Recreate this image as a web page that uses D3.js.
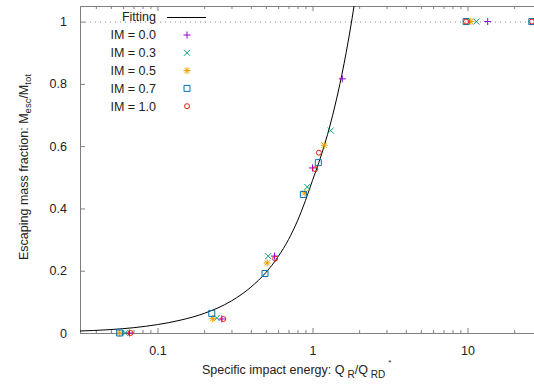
<!DOCTYPE html>
<html>
<head>
<meta charset="utf-8">
<script src="https://cdn.jsdelivr.net/npm/d3@7"></script>
<style>
  body { margin: 0; background: #fff; }
  svg { display: block; font-family: "Liberation Sans", Arial, sans-serif; }
  .axis text { font-size: 12.5px; fill: #222; }
  .axis path, .axis line { stroke: #808080; }
</style>
</head>
<body>
<div id="chart"></div>
<script>
// fitting curve
var fitQ = [0.03, 0.05, 0.07, 0.1, 0.14, 0.2, 0.3, 0.4, 0.5, 0.6, 0.7, 0.8, 0.9, 1.0, 1.1, 1.2, 1.3, 1.4, 1.5, 1.6, 1.7, 1.8, 1.9];
var fitM = [0.006, 0.011, 0.017, 0.027, 0.041, 0.063, 0.103, 0.147, 0.194, 0.245, 0.30, 0.36, 0.425, 0.49, 0.548, 0.607, 0.668, 0.732, 0.798, 0.866, 0.937, 1.01, 1.085];

// simulation results [Q_R/Q_RD*, M_esc/M_tot]
var im00 = [[0.066, 0], [0.26, 0.045], [0.569, 0.247], [1.0, 0.53], [1.557, 0.816], [13.5, 1]];
var im03 = [[0.062, 0], [0.241, 0.048], [0.518, 0.247], [0.925, 0.469], [1.31, 0.65], [11.4, 1]];
var im05 = [[0.057, 0], [0.227, 0.046], [0.51, 0.225], [0.894, 0.45], [1.19, 0.603], [10.5, 1]];
var im07 = [[0.057, 0], [0.224, 0.063], [0.494, 0.191], [0.873, 0.445], [1.09, 0.547], [9.8, 1], [26, 1]];
var im10 = [[0.067, 0], [0.266, 0.045], [0.574, 0.239], [1.04, 0.526], [1.10, 0.579], [9.8, 1], [26, 1]];

var seriesNames = ["IM = 0.0", "IM = 0.3", "IM = 0.5", "IM = 0.7", "IM = 1.0"];
var seriesData = [im00, im03, im05, im07, im10];
var seriesColors = ["#9400d3", "#009e73", "#e69f00", "#0072b2", "#e51e10"];
var seriesShapes = ["plus", "cross", "star", "square", "circle"];

var xMajor = [0.1, 1, 10];
var xMinor = [0.04, 0.05, 0.06, 0.07, 0.08, 0.09, 0.2, 0.3, 0.4, 0.5, 0.6, 0.7, 0.8, 0.9, 2, 3, 4, 5, 6, 7, 8, 9, 20, 30];
var yTicks = [0, 0.2, 0.4, 0.6, 0.8, 1];

var W = 534, H = 389;
var x = d3.scaleLog().domain([Math.pow(10, -1.5), Math.pow(10, 1.5)]).range([80, 545]);
var y = d3.scaleLinear().domain([0, 1.05]).range([333, 6]);

var svg = d3.select("#chart").append("svg").attr("width", W).attr("height", H);

svg.append("clipPath").attr("id", "plotclip")
  .append("rect").attr("x", 80).attr("y", 6).attr("width", 470).attr("height", 327);

// dotted line at total escape
svg.append("line")
  .attr("x1", x.range()[0]).attr("x2", x.range()[1])
  .attr("y1", y(1) + 0.5).attr("y2", y(1) + 0.5)
  .attr("stroke", "#888").attr("stroke-dasharray", "1,4");

// axes
svg.append("g").attr("class", "axis")
  .attr("transform", "translate(0," + y(0) + ")")
  .call(d3.axisBottom(x).tickValues(xMajor).tickFormat(function(d) { return d; })
    .tickSizeInner(-5).tickSizeOuter(0).tickPadding(13));
svg.append("g").attr("class", "axis")
  .attr("transform", "translate(0," + y(0) + ")")
  .call(d3.axisBottom(x).tickValues(xMinor).tickFormat("").tickSizeInner(-3).tickSizeOuter(0));
svg.append("g").attr("class", "axis")
  .attr("transform", "translate(0," + y.range()[1] + ")")
  .call(d3.axisTop(x).tickValues(xMajor).tickFormat("").tickSizeInner(-5).tickSizeOuter(0));
svg.append("g").attr("class", "axis")
  .attr("transform", "translate(0," + y.range()[1] + ")")
  .call(d3.axisTop(x).tickValues(xMinor).tickFormat("").tickSizeInner(-3).tickSizeOuter(0));
svg.append("g").attr("class", "axis")
  .attr("transform", "translate(" + x.range()[0] + ",0)")
  .call(d3.axisLeft(y).tickValues(yTicks).tickFormat(function(d) { return d; })
    .tickSizeInner(-5).tickSizeOuter(0).tickPadding(13));

// fitting curve
var line = d3.line()
  .x(function(d, i) { return x(fitQ[i]); })
  .y(function(d) { return y(d); })
  .curve(d3.curveMonotoneX);
svg.append("path")
  .datum(fitM)
  .attr("clip-path", "url(#plotclip)")
  .attr("fill", "none").attr("stroke", "#000").attr("stroke-width", 1)
  .attr("d", line);

// marker shapes
function marker(shape) {
  if (shape == "plus") return "M-3.5,0H3.5M0,-3.5V3.5";
  if (shape == "cross") return "M-3,-3L3,3M-3,3L3,-3";
  if (shape == "star") return "M-3.5,0H3.5M0,-3.5V3.5M-2.6,-2.6L2.6,2.6M-2.6,2.6L2.6,-2.6";
  if (shape == "square") return "M-3,-3H3V3H-3Z";
  return "M-2.5,0A2.5,2.5 0 1,0 2.5,0A2.5,2.5 0 1,0 -2.5,0Z";
}

for (var i = 0; i < seriesData.length; i++) {
  svg.append("g").selectAll("path")
    .data(seriesData[i])
    .enter().append("path")
    .attr("transform", function(d) { return "translate(" + x(d[0]) + "," + y(d[1]) + ")"; })
    .attr("d", marker(seriesShapes[i]))
    .attr("fill", "none")
    .attr("stroke", seriesColors[i])
    .attr("stroke-width", 1);
}

// legend
var leg = svg.append("g").style("font-size", "12.5px").style("fill", "#222");
leg.append("text").attr("x", 156).attr("y", 17).attr("dy", "0.35em")
  .attr("text-anchor", "end").text("Fitting");
leg.append("line").attr("x1", 167).attr("x2", 206).attr("y1", 17.5).attr("y2", 17.5)
  .attr("stroke", "#000");
for (var j = 0; j < seriesNames.length; j++) {
  var ly = 35 + j * 17.8;
  leg.append("text").attr("x", 156).attr("y", ly).attr("dy", "0.35em")
    .attr("text-anchor", "end").text(seriesNames[j]);
  leg.append("path").attr("transform", "translate(187," + ly + ")")
    .attr("d", marker(seriesShapes[j]))
    .attr("fill", "none").attr("stroke", seriesColors[j]);
}

// axis titles
var xt = svg.append("text").attr("x", 202).attr("y", 374)
  .style("font-size", "12.5px").style("fill", "#222");
xt.append("tspan").text("Specific impact energy: Q");
xt.append("tspan").attr("dx", 3).attr("dy", 4).style("font-size", "10px").text("R");
xt.append("tspan").attr("dy", -4).text("/Q");
xt.append("tspan").attr("dx", 3).attr("dy", 4).style("font-size", "10px").text("RD");
xt.append("tspan").attr("dx", 3).attr("dy", -13).style("font-size", "8px").text("*");

var yt = svg.append("text").attr("transform", "translate(28,260) rotate(-90)")
  .style("font-size", "12.5px").style("fill", "#222");
yt.append("tspan").text("Escaping mass fraction: M");
yt.append("tspan").attr("dy", 3).style("font-size", "9.5px").text("esc");
yt.append("tspan").attr("dy", -3).text("/M");
yt.append("tspan").attr("dy", 3).style("font-size", "9.5px").text("tot");
</script>
</body>
</html>
